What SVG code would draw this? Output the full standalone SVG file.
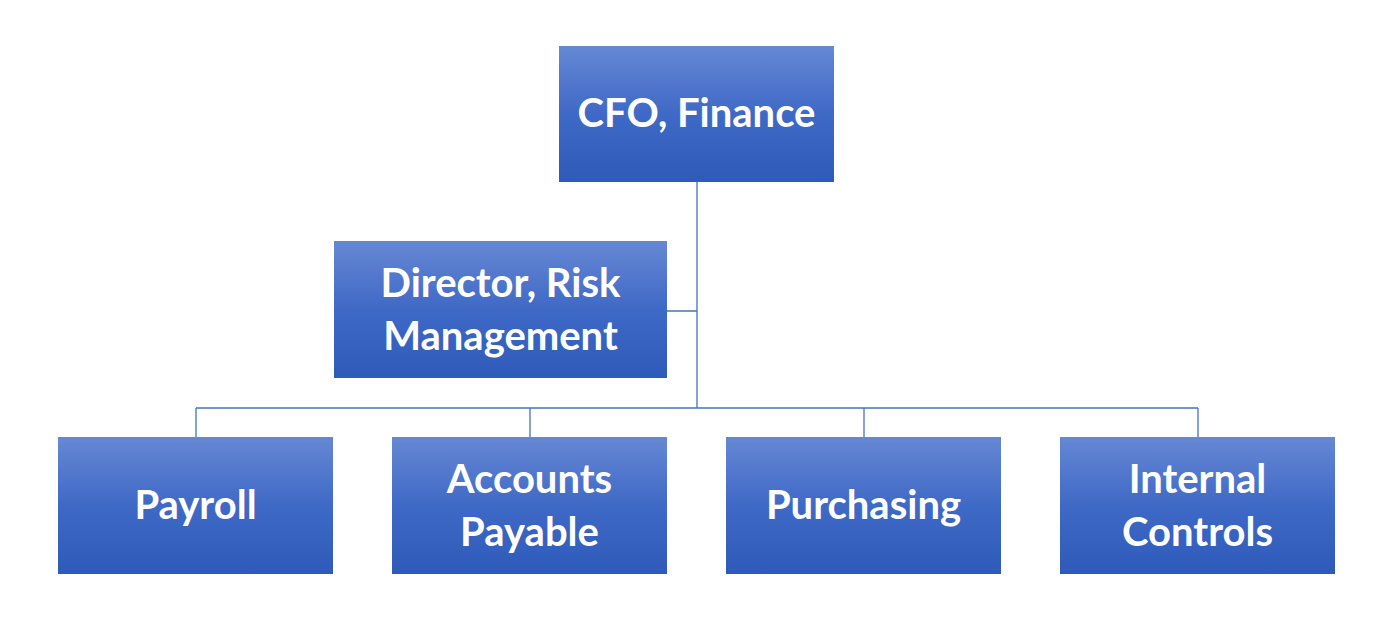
<svg xmlns="http://www.w3.org/2000/svg" width="1383" height="634" viewBox="0 0 1383 634">
<defs>
<linearGradient id="g" x1="0" y1="0" x2="0" y2="1">
<stop offset="0" stop-color="#6688d4"/>
<stop offset="0.5" stop-color="#3f69c6"/>
<stop offset="1" stop-color="#2e5ab9"/>
</linearGradient>
<style>
.box{fill:url(#g)}
.t{font-family:Lato,"Liberation Sans",sans-serif;font-weight:bold;font-size:40px;fill:#fff;text-anchor:middle}
.c{stroke:#4472c4;stroke-width:1.3;fill:none}
</style>
</defs>
<rect width="1383" height="634" fill="#fff"/>
<g id="connectors">
<path class="c" d="M697 182V408M667 311H697M196 408H1198M196 408V437M530 408V437M864 408V437M1198 408V437"/>
</g>
<g id="cfo"><rect class="box" x="559" y="46" width="275" height="136"/><text class="t" x="696.5" y="127">CFO, Finance</text></g>
<g id="director"><rect class="box" x="334" y="241" width="333" height="137"/><text class="t" x="500.5" y="297">Director, Risk</text><text class="t" x="500.5" y="350">Management</text></g>
<g id="payroll"><rect class="box" x="58" y="437" width="275" height="137"/><text class="t" x="195.5" y="519">Payroll</text></g>
<g id="ap"><rect class="box" x="392" y="437" width="275" height="137"/><text class="t" x="529.5" y="493">Accounts</text><text class="t" x="529.5" y="546">Payable</text></g>
<g id="purchasing"><rect class="box" x="726" y="437" width="275" height="137"/><text class="t" x="863.5" y="519">Purchasing</text></g>
<g id="ic"><rect class="box" x="1060" y="437" width="275" height="137"/><text class="t" x="1197.5" y="493">Internal</text><text class="t" x="1197.5" y="546">Controls</text></g>
</svg>
